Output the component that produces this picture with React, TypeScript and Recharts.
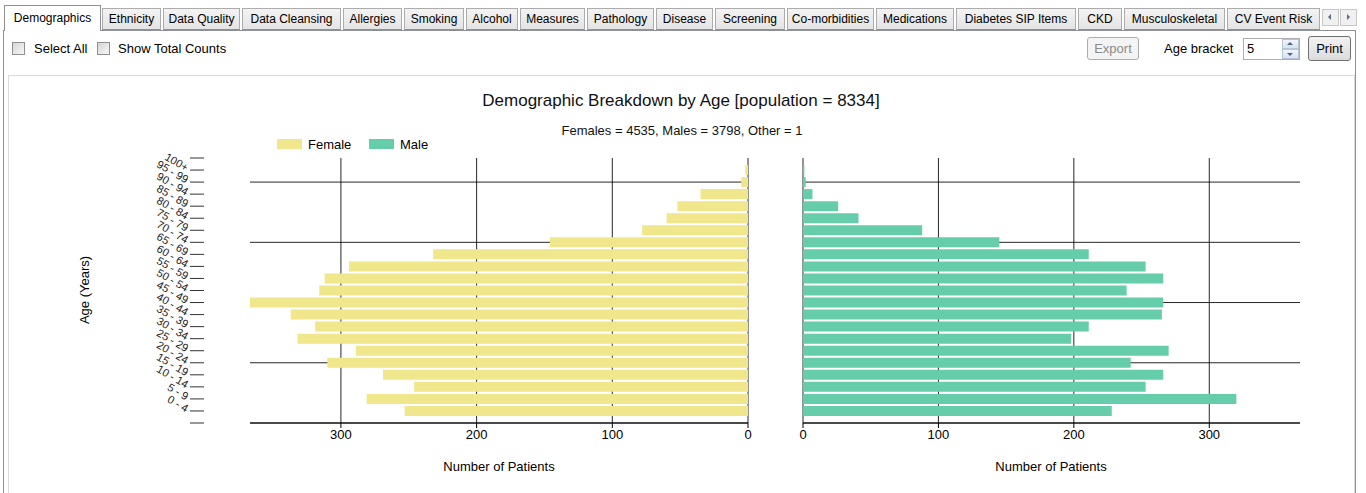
import React from 'react';
import { BarChart, Bar, XAxis, YAxis, CartesianGrid } from 'recharts';

const ageLabels = ['0 - 4', '5 - 9', '10 - 14', '15 - 19', '20 - 24', '25 - 29', '30 - 34', '35 - 39', '40 - 44', '45 - 49', '50 - 54', '55 - 59', '60 - 64', '65 - 69', '70 - 74', '75 - 79', '80 - 84', '85 - 89', '90 - 94', '95 - 99', '100+'];
const femaleCounts = [253, 281, 246, 269, 310, 289, 332, 319, 337, 367, 316, 312, 294, 232, 146, 78, 60, 52, 35, 5, 2];
const maleCounts = [228, 320, 253, 266, 242, 270, 198, 211, 265, 266, 239, 266, 253, 211, 145, 88, 41, 26, 7, 2, 1];
const xTicks = [0, 100, 200, 300];
const gridYTicks = [0, 5, 10, 15, 20];
const yTicks = [0, 1, 2, 3, 4, 5, 6, 7, 8, 9, 10, 11, 12, 13, 14, 15, 16, 17, 18, 19, 20, 21, 22];
const tabNames = ['Demographics', 'Ethnicity', 'Data Quality', 'Data Cleansing', 'Allergies', 'Smoking', 'Alcohol', 'Measures', 'Pathology', 'Disease', 'Screening', 'Co-morbidities', 'Medications', 'Diabetes SIP Items', 'CKD', 'Musculoskeletal', 'CV Event Risk'];
const tabEdges = [[4, 101], [102, 161], [163, 240], [242, 341], [343, 402], [404, 464], [466, 518], [520, 585], [587, 654], [656, 713], [715, 785], [787, 874], [876, 954], [956, 1076], [1078, 1122], [1124, 1225], [1227, 1320]];

const FEMALE = '#F0E68C';
const MALE = '#66CDAA';
const FONT = '"Liberation Sans", Arial, sans-serif';
const Y_MAX = 22;
const X_MAX = 367;

const rows = ageLabels.map((label, i) => ({ pos: i + 1, label, female: femaleCounts[i], male: maleCounts[i] }));

const AgeTick = (props: any) => {
  const { x, y, payload } = props;
  const v = payload.value;
  const label = v >= 1 && v <= ageLabels.length ? ageLabels[v - 1] : '';
  const tx = x - 63;
  const ty = y - 1;
  return (
    <g>
      <line x1={x - 60} x2={x - 46} y1={y} y2={y} stroke="#333" strokeWidth={1} />
      {label ? (
        <text x={tx} y={ty} textAnchor="end" fontSize={11} fill="#222" fontFamily={FONT} dy={3} transform={`rotate(30, ${tx}, ${ty})`}>
          {label}
        </text>
      ) : null}
    </g>
  );
};

const abs = (l: number, t: number, extra: any = {}) => ({ position: 'absolute' as const, left: l, top: t, ...extra });

const Checkbox = ({ x, y }: { x: number; y: number }) => (
  <div style={abs(x, y, { width: 11, height: 11, border: '1px solid #8e8f8f', background: 'linear-gradient(135deg, #d6d6d6, #f6f6f6)' })} />
);

export default function App() {
  return (
    <div style={{ position: 'absolute', left: 0, top: 0, width: 1366, height: 493, background: '#fff', overflow: 'hidden', fontFamily: FONT, color: '#000' }}>
      {/* tab page */}
      <div style={abs(3, 30, { width: 1353, height: 470, border: '1px solid #8d9196', boxSizing: 'border-box' as const })} />
      {tabNames.map((name, i) => {
        const [a, b] = tabEdges[i];
        const sel = i === 0;
        return (
          <div
            key={name}
            style={abs(a, sel ? 5 : 8, {
              width: b - a,
              height: sel ? 26 : 22,
              boxSizing: 'border-box',
              border: '1px solid ' + (sel ? '#8d9196' : '#acacac'),
              borderBottom: sel ? 'none' : '1px solid #8d9196',
              background: sel ? '#fff' : 'linear-gradient(#f3f3f3, #e4e4e4)',
              fontSize: 12,
              lineHeight: sel ? '24px' : '20px',
              textAlign: 'center',
              whiteSpace: 'nowrap',
              zIndex: sel ? 2 : 1,
            })}
          >
            {name}
          </div>
        );
      })}
      {/* scroll arrows */}
      <div style={abs(1322, 9, { width: 17, height: 17, boxSizing: 'border-box', border: '1px solid #c8c8c8', background: '#f0f0f0' })}>
        <div style={abs(5, 4, { width: 0, height: 0, borderTop: '3px solid transparent', borderBottom: '3px solid transparent', borderRight: '3px solid #5a6a8a' })} />
      </div>
      <div style={abs(1340, 9, { width: 17, height: 17, boxSizing: 'border-box', border: '1px solid #c8c8c8', background: '#f0f0f0' })}>
        <div style={abs(6, 4, { width: 0, height: 0, borderTop: '3px solid transparent', borderBottom: '3px solid transparent', borderLeft: '3px solid #5a6a8a' })} />
      </div>

      {/* options row */}
      <Checkbox x={12} y={42} />
      <div style={abs(34, 41, { fontSize: 13, lineHeight: '15px' })}>Select All</div>
      <Checkbox x={97} y={42} />
      <div style={abs(118, 41, { fontSize: 13, lineHeight: '15px' })}>Show Total Counts</div>

      <div style={abs(1087, 37, { width: 52, height: 23, boxSizing: 'border-box', border: '1px solid #adadad', borderRadius: 3, background: '#f4f4f4', color: '#8a8a8a', fontSize: 13, lineHeight: '21px', textAlign: 'center' })}>Export</div>
      <div style={abs(1164, 41, { fontSize: 13, lineHeight: '15px' })}>Age bracket</div>
      <div style={abs(1243, 38, { width: 57, height: 22, boxSizing: 'border-box', border: '1px solid #abadb3', background: '#fff', fontSize: 13, lineHeight: '20px', paddingLeft: 3 })}>5</div>
      <div style={abs(1282, 39, { width: 17, height: 10, boxSizing: 'border-box', border: '1px solid #b7c3d6', background: 'linear-gradient(#f2f6fb, #d5e2f1)' })}>
        <div style={abs(4, 2, { width: 0, height: 0, borderLeft: '3px solid transparent', borderRight: '3px solid transparent', borderBottom: '3px solid #4d6185' })} />
      </div>
      <div style={abs(1282, 49, { width: 17, height: 10, boxSizing: 'border-box', border: '1px solid #b7c3d6', background: 'linear-gradient(#f2f6fb, #d5e2f1)' })}>
        <div style={abs(4, 3, { width: 0, height: 0, borderLeft: '3px solid transparent', borderRight: '3px solid transparent', borderTop: '3px solid #4d6185' })} />
      </div>
      <div style={abs(1308, 36, { width: 43, height: 25, boxSizing: 'border-box', border: '1px solid #707070', borderRadius: 3, background: 'linear-gradient(#f2f2f2, #dcdcdc)', fontSize: 13, lineHeight: '23px', textAlign: 'center' })}>Print</div>

      {/* chart panel */}
      <div style={abs(8, 75, { width: 1347, height: 430, boxSizing: 'border-box', border: '1px solid #dadada' })} />

      <div style={abs(681, 101, { transform: 'translate(-50%, -50%)', fontSize: 17, whiteSpace: 'nowrap', color: '#111' })}>Demographic Breakdown by Age [population = 8334]</div>
      <div style={abs(682, 130, { transform: 'translate(-50%, -50%)', fontSize: 13, whiteSpace: 'nowrap', color: '#111' })}>Females = 4535, Males = 3798, Other = 1</div>

      {/* legend */}
      <div style={abs(277, 139, { width: 25, height: 10, background: FEMALE })} />
      <div style={abs(308, 137, { fontSize: 13, lineHeight: '15px' })}>Female</div>
      <div style={abs(369, 139, { width: 25, height: 10, background: MALE })} />
      <div style={abs(400, 137, { fontSize: 13, lineHeight: '15px' })}>Male</div>

      <div style={abs(84, 290, { transform: 'translate(-50%, -50%) rotate(-90deg)', fontSize: 13, whiteSpace: 'nowrap' })}>Age (Years)</div>

      <div style={abs(499, 466, { transform: 'translate(-50%, -50%)', fontSize: 13, whiteSpace: 'nowrap' })}>Number of Patients</div>
      <div style={abs(1051, 466, { transform: 'translate(-50%, -50%)', fontSize: 13, whiteSpace: 'nowrap' })}>Number of Patients</div>

      {/* left chart: female */}
      <div style={abs(0, 0)}>
        <BarChart width={760} height={493} layout="vertical" data={rows} margin={{ top: 158, bottom: 40, left: 50, right: 12 }}>
          <CartesianGrid stroke="#000" strokeOpacity={0.85} horizontalValues={gridYTicks} verticalValues={xTicks} />
          <XAxis type="number" domain={[0, X_MAX]} reversed ticks={xTicks} height={30} tickSize={5} tickMargin={2} stroke="#000" tick={{ fontSize: 13, fill: '#000', fontFamily: FONT }} allowDataOverflow />
          <YAxis type="number" dataKey="pos" domain={[0, Y_MAX]} reversed ticks={yTicks} width={200} axisLine={false} tickLine={false} tickSize={0} tickMargin={0} tick={<AgeTick />} interval={0} allowDataOverflow />
          <Bar dataKey="female" fill={FEMALE} barSize={10} isAnimationActive={false} />
        </BarChart>
      </div>

      {/* right chart: male */}
      <div style={abs(770, 0)}>
        <BarChart width={596} height={493} layout="vertical" data={rows} margin={{ top: 158, bottom: 40, left: 33, right: 66 }}>
          <CartesianGrid stroke="#000" strokeOpacity={0.85} horizontalValues={gridYTicks} verticalValues={xTicks} />
          <XAxis type="number" domain={[0, X_MAX]} ticks={xTicks} height={30} tickSize={5} tickMargin={2} stroke="#000" tick={{ fontSize: 13, fill: '#000', fontFamily: FONT }} allowDataOverflow />
          <YAxis type="number" dataKey="pos" domain={[0, Y_MAX]} reversed ticks={yTicks} hide allowDataOverflow />
          <Bar dataKey="male" fill={MALE} barSize={10} isAnimationActive={false} />
        </BarChart>
      </div>
    </div>
  );
}
